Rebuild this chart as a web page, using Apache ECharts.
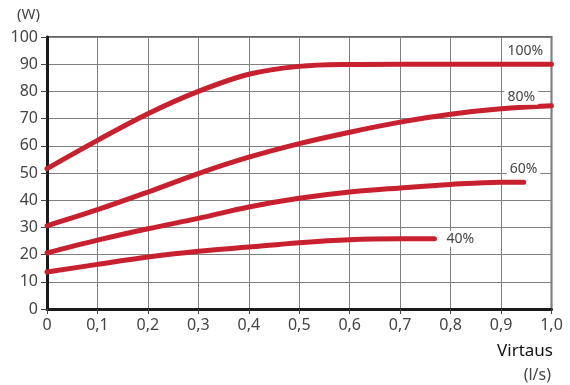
<!DOCTYPE html>
<html>
<head>
<meta charset="utf-8">
<script src="https://cdn.jsdelivr.net/npm/echarts@6/dist/echarts.min.js"></script>
<style>
  html, body { margin: 0; padding: 0; background: #fff; }
  #chart { width: 570px; height: 385px; }
</style>
</head>
<body>
<div id="chart"></div>
<script>
// flow (l/s) and power (W)
const flow = [0, 0.1, 0.2, 0.3, 0.4, 0.5, 0.6, 0.7, 0.8, 0.9, 1.0];
const flow60 = [0, 0.1, 0.2, 0.3, 0.4, 0.5, 0.6, 0.7, 0.8, 0.9, 0.945];
const flow40 = [0, 0.1, 0.2, 0.3, 0.4, 0.5, 0.6, 0.7, 0.768];

const power100 = [51.6, 62, 71.8, 80, 86.3, 89.2, 89.9, 90, 90, 90, 90];
const power80 = [30.6, 36.5, 43, 49.8, 55.8, 60.8, 65, 68.7, 71.6, 73.6, 74.7];
const power60 = [20.6, 25.3, 29.5, 33.3, 37.5, 40.7, 43, 44.5, 45.8, 46.6, 46.6];
const power40 = [13.6, 16.4, 19.1, 21.2, 22.8, 24.4, 25.5, 25.8, 25.8];

const labels = ['100%', '80%', '60%', '40%'];

const red = '#c8202f';
const font = 'Noto Sans';

function pairs(xs, ys) {
  return xs.map((x, i) => [x, ys[i]]);
}

function curve(name, xs, ys, labelOpt) {
  return {
    name: name,
    type: 'line',
    smooth: 0.35,
    showSymbol: false,
    symbol: 'none',
    lineStyle: { color: red, width: 5, cap: 'round' },
    data: pairs(xs, ys),
    endLabel: Object.assign({
      show: true,
      formatter: name,
      color: '#444',
      fontFamily: font,
      fontSize: 14,
      backgroundColor: '#fff',
      padding: [1, 3]
    }, labelOpt)
  };
}

const chart = echarts.init(document.getElementById('chart'));
chart.setOption({
  animation: false,
  grid: {
    left: 47, right: 18.5, top: 37, bottom: 76,
    show: true, borderColor: '#666', borderWidth: 2
  },
  xAxis: {
    type: 'value',
    min: 0, max: 1, interval: 0.1,
    axisLine: { show: true, lineStyle: { color: '#1a1a1a', width: 3 } },
    axisTick: { show: true, length: 5, lineStyle: { color: '#444' } },
    splitLine: { show: true, lineStyle: { color: '#808080', width: 1 } },
    axisLabel: {
      color: '#444', fontFamily: font, fontSize: 16, margin: 8,
      formatter: v => v === 0 ? '0' : v.toFixed(1).replace('.', ',')
    }
  },
  yAxis: {
    type: 'value',
    min: 0, max: 100, interval: 10,
    axisLine: { show: true, lineStyle: { color: '#1a1a1a', width: 3 } },
    axisTick: { show: true, length: 6, lineStyle: { color: '#444' } },
    splitLine: { show: true, lineStyle: { color: '#808080', width: 1 } },
    axisLabel: { color: '#444', fontFamily: font, fontSize: 16, margin: 9 }
  },
  graphic: [
    { type: 'text', left: 17, top: 7,
      style: { text: '(W)', fill: '#444', font: '15px "Noto Sans"' } },
    { type: 'text', right: 17, top: 343,
      style: { text: 'Virtaus', fill: '#111', font: '17px "Noto Sans"' } },
    { type: 'text', right: 19, top: 367,
      style: { text: '(l/s)', fill: '#444', font: '16px "Noto Sans"' } }
  ],
  series: [
    curve(labels[0], flow, power100, { offset: [-55, -13] }),
    curve(labels[1], flow, power80, { offset: [-55, -9] }),
    curve(labels[2], flow60, power60, { offset: [-25, -13] }),
    curve(labels[3], flow40, power40, { offset: [1, 0] })
  ]
});
</script>
</body>
</html>
